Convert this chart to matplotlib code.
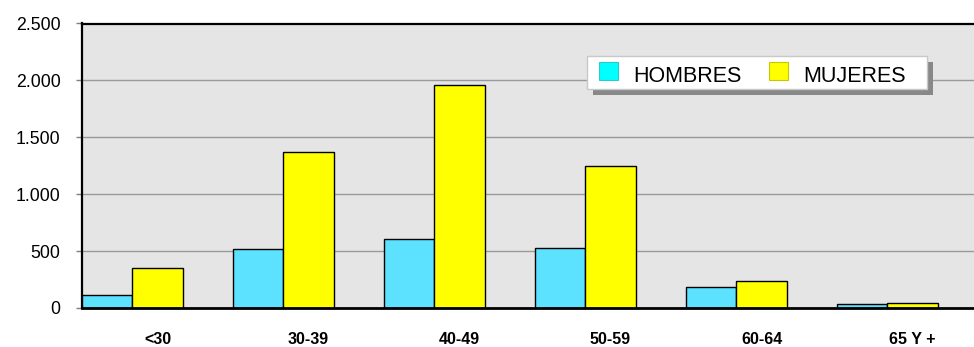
import matplotlib
matplotlib.use("Agg")
import matplotlib.pyplot as plt
from matplotlib.patches import Rectangle

categories = ["<30", "30-39", "40-49", "50-59", "60-64", "65 Y +"]
hombres = [110, 520, 610, 530, 185, 35]
mujeres = [350, 1370, 1960, 1245, 240, 44]
yticks = [0, 500, 1000, 1500, 2000, 2500]
ytick_labels = ["0", "500", "1.000", "1.500", "2.000", "2.500"]
series_names = ["HOMBRES", "MUJERES"]

plt.rcParams['font.family'] = ['Liberation Sans', 'DejaVu Sans']

W, H = 974, 347
fig = plt.figure(figsize=(W / 100, H / 100), dpi=100)
left_px, top_px, bottom_px = 82, 23.5, 308
ax = fig.add_axes([left_px / W, 1 - bottom_px / H, 1 - left_px / W, (bottom_px - top_px) / H])
ax.set_facecolor('#e5e5e5')

cat_px = 151
bw = 1 / 3
x = list(range(len(categories)))
ax.bar([i for i in x], hombres, width=bw, align='edge', color='#5ce1ff',
       edgecolor='black', linewidth=1.0, zorder=3)
ax.bar([i + bw for i in x], mujeres, width=bw, align='edge', color='#ffff00',
       edgecolor='black', linewidth=1.0, zorder=3)

ax.set_xlim(0, (W - left_px) / cat_px)
ax.set_ylim(0, 2500)
ax.set_yticks(yticks)
ax.set_yticklabels(ytick_labels, fontsize=12.8)
ax.set_xticks([i + 0.5 for i in x])
ax.set_xticklabels(categories, fontsize=11.5, fontweight='bold')
ax.tick_params(axis='x', length=0, pad=17)
ax.tick_params(axis='y', length=4.5, color='#808080', width=1, pad=11)
for v in yticks[1:-1]:
    ax.axhline(v, color='#999999', linewidth=1, zorder=1)

for s in ['top', 'left']:
    ax.spines[s].set_linewidth(1.6)
    ax.spines[s].set_color('black')
ax.spines['bottom'].set_linewidth(2.0)
ax.spines['bottom'].set_zorder(4)
ax.spines['right'].set_visible(False)


def fx(px):
    return px / W


def fy(py):
    return 1 - py / H


def rect(x0, y0, x1, y1, **kw):
    fig.add_artist(Rectangle((fx(x0), fy(y1)), fx(x1) - fx(x0), fy(y0) - fy(y1),
                             transform=fig.transFigure, **kw))


# legend (drawn manually to match the box geometry)
rect(593, 62, 933, 95, facecolor='#888888', edgecolor='none', zorder=10)
rect(587, 56, 927, 89, facecolor='white', edgecolor='#c8c8c8', linewidth=1, zorder=11)
rect(599, 62, 618, 80, facecolor='#00ffff', edgecolor='#30c8c8', linewidth=0.8, zorder=12)
rect(769, 62, 788, 80, facecolor='#ffff00', edgecolor='#c8c800', linewidth=0.8, zorder=12)
fig.text(fx(633), fy(82), series_names[0], fontsize=15.5, va='baseline', ha='left', zorder=12)
fig.text(fx(803), fy(82), series_names[1], fontsize=15.5, va='baseline', ha='left', zorder=12)

fig.savefig('out.png', dpi=100)
